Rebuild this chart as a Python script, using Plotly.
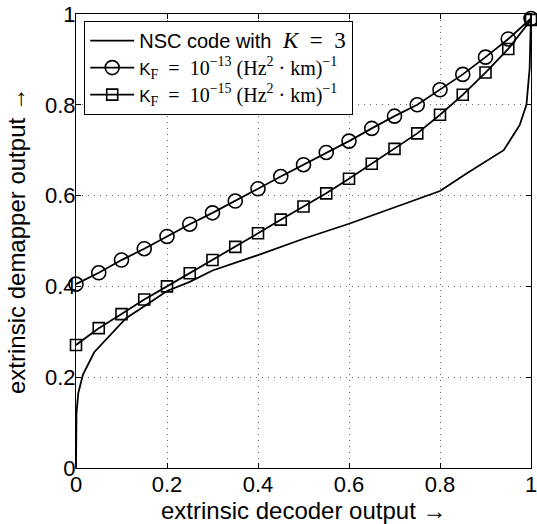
import plotly.graph_objects as go

# NSC code with K=3 (EXIT curve of decoder)
nsc_x = [0, 0.001, 0.005, 0.015, 0.04, 0.075, 0.11, 0.16, 0.2, 0.25, 0.3, 0.4, 0.5, 0.6,
         0.7, 0.8, 0.86, 0.9, 0.94, 0.975, 0.99, 0.997, 1.0]
nsc_y = [0, 0.12, 0.165, 0.205, 0.255, 0.293, 0.33, 0.363, 0.39, 0.41, 0.435, 0.469, 0.505, 0.538,
         0.574, 0.61, 0.65, 0.675, 0.70, 0.755, 0.80, 0.88, 1.0]

# demapper curves
kf_x = [0, 0.05, 0.1, 0.15, 0.2, 0.25, 0.3, 0.35, 0.4, 0.45, 0.5, 0.55, 0.6, 0.65,
        0.7, 0.75, 0.8, 0.85, 0.9, 0.95, 1.0]
kf13_y = [0.405, 0.43, 0.458, 0.483, 0.51, 0.537, 0.562, 0.588, 0.615, 0.642, 0.668, 0.695,
          0.72, 0.748, 0.775, 0.80, 0.833, 0.867, 0.905, 0.945, 0.99]
kf15_y = [0.271, 0.308, 0.339, 0.371, 0.400, 0.429, 0.458, 0.487, 0.517, 0.547, 0.576, 0.605,
          0.637, 0.670, 0.703, 0.737, 0.778, 0.822, 0.871, 0.923, 0.987]

ticks = [0, 0.2, 0.4, 0.6, 0.8, 1]
tick_labels = ["0", "0.2", "0.4", "0.6", "0.8", "1"]

SANS = "Liberation Sans, Arial, Helvetica, sans-serif"
SERIF = "font-family:'Liberation Serif', 'DejaVu Serif', serif"
name_nsc = ("<span style=\"font-size:20px\">NSC code with</span>"
            "<span style=\"%s;font-size:23px\">  <i>K</i>  =  3</span>" % SERIF)
name_13 = ("<span style=\"font-size:17px\">K</span><span style=\"%s;font-size:20px\"><sub>F</sub>  =  10<sup>−13</sup> (Hz<sup>2</sup> · km)<sup>−1</sup></span>" % SERIF)
name_15 = ("<span style=\"font-size:17px\">K</span><span style=\"%s;font-size:20px\"><sub>F</sub>  =  10<sup>−15</sup> (Hz<sup>2</sup> · km)<sup>−1</sup></span>" % SERIF)

fig = go.Figure()
fig.add_trace(go.Scatter(x=nsc_x, y=nsc_y, mode="lines", name=name_nsc,
                         line=dict(color="black", width=1.8), cliponaxis=False))
fig.add_trace(go.Scatter(x=kf_x, y=kf13_y, mode="lines+markers", name=name_13,
                         line=dict(color="black", width=1.8), cliponaxis=False,
                         marker=dict(symbol="circle-open", size=14, color="black",
                                     line=dict(width=1.6, color="black"))))
fig.add_trace(go.Scatter(x=kf_x, y=kf15_y, mode="lines+markers", name=name_15,
                         line=dict(color="black", width=1.8), cliponaxis=False,
                         marker=dict(symbol="square-open", size=11, color="black",
                                     line=dict(width=1.6, color="black"))))

axis_common = dict(
    range=[0, 1], tickvals=ticks, ticktext=tick_labels, automargin=False,
    showline=True, linecolor="black", linewidth=1.2, mirror="ticks",
    ticks="inside", ticklen=5, tickcolor="black", tickwidth=1,
    showgrid=True, gridcolor="#666666", griddash="1px,5px", gridwidth=1,
    zeroline=False, ticklabeloverflow="allow",
    tickfont=dict(family=SANS, size=22, color="black"),
)

fig.update_layout(
    width=537, height=524,
    margin=dict(l=76, r=6, t=14, b=56),
    paper_bgcolor="white", plot_bgcolor="white",
    xaxis=dict(axis_common, ticklabelstandoff=-4),
    yaxis=dict(axis_common, ticklabelstandoff=-5),
    legend=dict(x=0.0176, y=0.985, xanchor="left", yanchor="top",
                bgcolor="white", bordercolor="black", borderwidth=1.2,
                font=dict(family=SANS, size=18.5, color="black"),
                tracegroupgap=0, itemwidth=44),
    showlegend=True,
    annotations=[
        dict(text="extrinsic decoder output →", xref="paper", yref="paper",
             x=0.5, y=0, xanchor="center", yanchor="middle", yshift=-42,
             showarrow=False, font=dict(family=SANS, size=24, color="black")),
        dict(text="extrinsic demapper output →", xref="paper", yref="paper",
             x=0, y=0.5, xanchor="center", yanchor="middle", xshift=-60,
             textangle=-90, showarrow=False,
             font=dict(family=SANS, size=24, color="black")),
    ],
)

fig.write_html("out.html", config={"displayModeBar": False},
               post_script="document.body.style.margin='0';document.body.style.overflow='hidden';")
